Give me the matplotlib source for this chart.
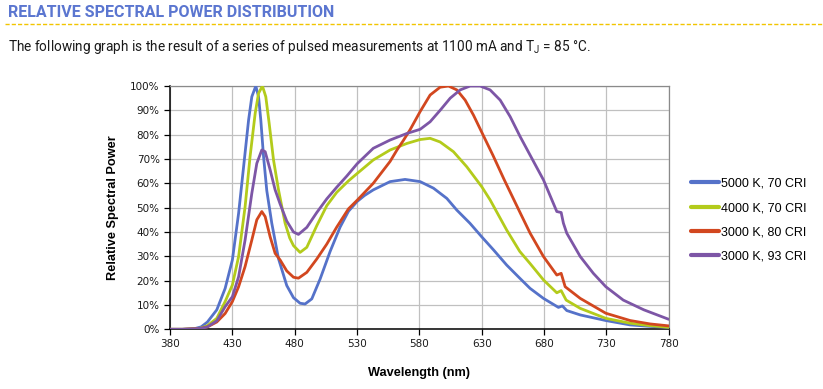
import matplotlib
matplotlib.use("Agg")
import matplotlib.pyplot as plt
from matplotlib.lines import Line2D
from matplotlib.ticker import FuncFormatter

# ---------------------------------------------------------------- data
WL_5000 = [380, 390, 400, 405, 410, 417.5, 424.2, 430, 435, 439, 443, 445.6, 448.8, 451,
           452.8, 455, 457.6, 461.6, 467, 473.6, 479, 484.3, 488.3, 493.7, 500.4, 508.4,
           516.4, 523.1, 530, 536, 543, 556.5, 568.5, 580.6, 591.3, 602, 610, 620.5, 630,
           639.5, 650, 660.5, 668.8, 679.5, 691.5, 694.7, 698.2, 709, 729.5, 749, 765, 780]
SP_5000 = [0, 0, 0.3, 1, 3, 8, 16.8, 28.5, 47.7, 66.8, 86, 95.6, 100, 95.6,
           86, 71, 57, 43.6, 29, 18, 13, 10.7, 10.4, 12.5, 20.7, 32,
           42, 48.5, 52.5, 55, 57.3, 60.7, 61.6, 60.7, 58, 53.8, 49, 43.6, 38,
           32.6, 26.4, 21, 16.8, 12.7, 9, 9.6, 7.7, 5.9, 3.6, 1.8, 1.2, 0.8]

WL_4000 = [380, 390, 400, 405, 410, 417.5, 424.2, 430, 435, 440.2, 444.2, 448.3, 451, 454.1,
           456.8, 459.5, 463, 467, 472.3, 476, 479, 484.3, 489.7, 497.7, 505.7, 513.7, 523.1,
           530, 543, 556.5, 570, 580.6, 588.6, 596.6, 607.3, 618, 630, 636.7, 650, 660.5,
           668.8, 679.5, 690.2, 693.7, 697.7, 709, 729.5, 749, 765, 780]
SP_4000 = [0, 0, 0.2, 0.5, 1.5, 4.5, 11.4, 18.2, 29.9, 50.4, 71, 88.8, 97, 100,
           95.6, 84.7, 69.6, 57.3, 43.6, 37.5, 34.4, 31.6, 33.7, 42.6, 50.8, 56.3, 61,
           64, 69.6, 73.7, 76.4, 78, 78.5, 77, 73, 66.8, 58.6, 53.2, 40.8, 32,
           27, 20.3, 15, 15.9, 12, 8.6, 4.5, 2.5, 1.5, 0.8]

WL_3080 = [380, 390, 400, 405, 410, 417.5, 424.2, 430, 435, 440.2, 445.6, 449.6, 453.6,
           456.3, 460.3, 464.3, 468.3, 473.6, 479, 483, 489.7, 497.7, 505.7, 513.7, 523.1,
           530, 543, 556.5, 562, 567, 572.5, 580.6, 588.6, 596.6, 603.3, 610, 616.7, 623.4,
           630, 639, 648, 656, 661, 668.8, 679.5, 690.2, 693.7, 696.9, 709, 729.5, 749,
           765, 780]
SP_3080 = [0, 0, 0.2, 0.4, 1, 3, 6.5, 11.4, 17.5, 25.8, 36.7, 45, 48.4,
           46.3, 38, 31.2, 28.5, 24, 21.4, 21, 23.4, 28.9, 35, 42, 49.5,
           53, 60, 69, 73.7, 77.5, 82, 89.5, 96.3, 99.5, 100, 98.4, 94.2, 88,
           81, 71.5, 61.5, 53, 47.7, 39.5, 29.9, 22.3, 23, 17.5, 12.7, 6.6, 3.6,
           2.2, 1.4]

WL_3093 = [380, 390, 400, 405, 410, 417.5, 424.2, 430, 435, 440.2, 445.6, 449.6, 453.6,
           456.3, 460.3, 464.3, 468.3, 473.6, 479, 483, 489.7, 497.7, 505.7, 513.7, 521.8,
           530, 543, 556.5, 570, 580.6, 588.6, 596.6, 604.7, 612.7, 620.7, 628.7, 636.7,
           644.8, 652.8, 660.8, 671.5, 679.5, 690.2, 693.7, 695.5, 698.2, 709, 719.5,
           729.5, 743.5, 760, 780]
SP_3093 = [0, 0, 0.2, 0.4, 1, 3.5, 9.3, 13.4, 21.6, 36.7, 55.9, 68.2, 73.7,
           73, 65.5, 57.3, 51.5, 44.5, 40, 39, 41.9, 48, 53.6, 58.4, 63,
           68, 74.4, 77.8, 80.5, 82.2, 85.3, 90, 95, 98.4, 100, 100, 98.4,
           94.2, 87.4, 79.2, 69, 61.4, 48.4, 48, 43.6, 39.5, 29.9, 23,
           17.5, 12, 8, 4.1]

SERIES = [
    ("5000 K, 70 CRI", WL_5000, SP_5000, "#5572C9"),
    ("4000 K, 70 CRI", WL_4000, SP_4000, "#B3CB1B"),
    ("3000 K, 80 CRI", WL_3080, SP_3080, "#D2471F"),
    ("3000 K, 93 CRI", WL_3093, SP_3093, "#7D56A6"),
]
X_TICKS = list(range(380, 781, 50))
Y_TICKS = list(range(0, 101, 10))

# ---------------------------------------------------------------- render
fig = plt.figure(figsize=(8.23, 3.89), dpi=100)
fig.patch.set_facecolor("white")

fig.text(0.0097, 0.968, "RELATIVE SPECTRAL POWER DISTRIBUTION", family="Roboto",
         weight="bold", fontsize=11.5, color="#5B76D0", va="center", ha="left")
fig.add_artist(Line2D([0.006, 1.0], [0.938, 0.938], transform=fig.transFigure,
                      color="#F2C500", lw=1.0, ls=(0, (3, 1.5))))
fig.text(0.0097, 0.879,
         r"The following graph is the result of a series of pulsed measurements at 1100 mA and "
         r"T$_\mathregular{J}$ = 85 °C.",
         family="Roboto", fontsize=9.8, color="#1a1a1a", va="center", ha="left")

ax = fig.add_axes([0.2066, 0.1535, 0.606, 0.6254])
for label, wl, sp, col in SERIES:
    ax.plot(wl, sp, color=col, lw=2.0, label=label, solid_joinstyle="round",
            solid_capstyle="round", zorder=3)

ax.set_xlim(380, 780)
ax.set_ylim(0, 100)
ax.set_xticks(X_TICKS)
ax.set_yticks(Y_TICKS)
ax.yaxis.set_major_formatter(FuncFormatter(lambda v, _: f"{v:.0f}%"))
ax.grid(True, color="#C0C0C0", lw=0.9, zorder=0)
ax.set_axisbelow(True)
for s in ("top", "right"):
    ax.spines[s].set_color("#8a8a8a")
    ax.spines[s].set_linewidth(0.9)
for s in ("left", "bottom"):
    ax.spines[s].set_color("black")
    ax.spines[s].set_linewidth(1.1)
ax.tick_params(axis="both", labelsize=7.5, length=4, width=0.9, colors="black",
               labelcolor="#1a1a1a")
ax.tick_params(axis="x", pad=3)
ax.set_xlabel("Wavelength (nm)", family="Liberation Sans", weight="bold", fontsize=9.2,
              labelpad=13)
ax.set_ylabel("Relative Spectral Power", family="Liberation Sans", weight="bold",
              fontsize=9.2, labelpad=8)

leg = fig.legend(loc="center left", bbox_to_anchor=(0.833, 0.434), frameon=False,
                 prop={"family": "Liberation Sans", "size": 9}, handlelength=2.3,
                 handletextpad=0.15, labelspacing=0.98, borderaxespad=0)
for h in leg.get_lines():
    h.set_linewidth(3.0)

fig.savefig("out.png", dpi=100, facecolor="white")
